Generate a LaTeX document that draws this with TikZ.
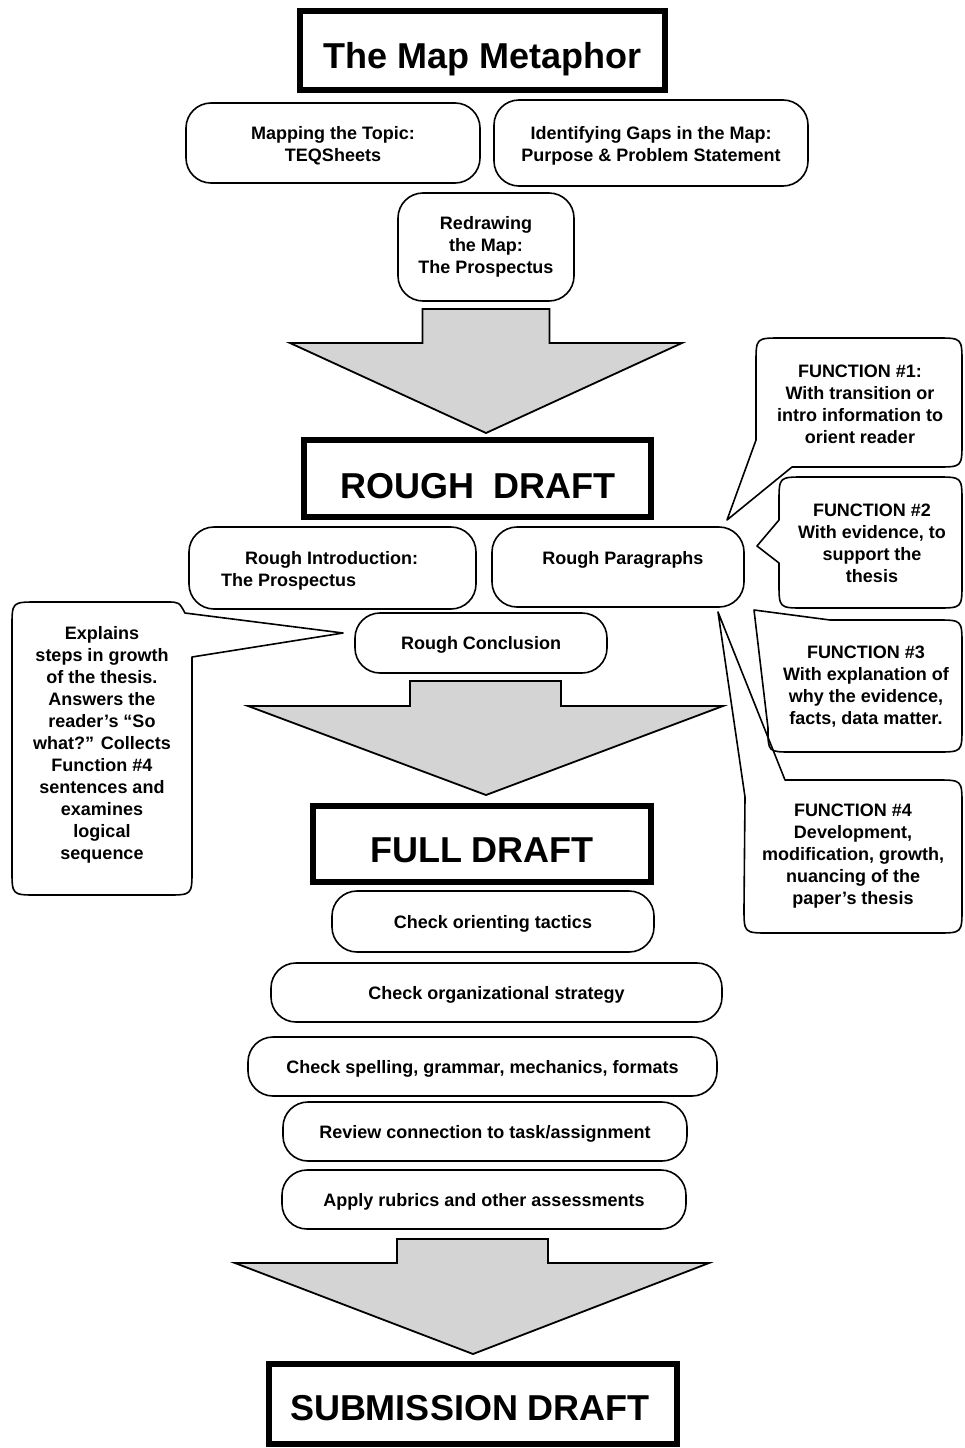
\documentclass[tikz,border=0pt]{standalone}
\usepackage{fontspec}
\setmainfont{Liberation Sans}
\definecolor{arrowgray}{RGB}{212,212,212}
\begin{document}
\begin{tikzpicture}[x=1pt,y=-1pt,
  bigbox/.style={draw, line width=6pt, inner sep=0pt},
  bigtext/.style={font=\fontsize{36}{40}\selectfont\bfseries, inner sep=0pt},
  rbox/.style={draw, line width=1.6pt, rounded corners=25pt, inner sep=0pt, align=center,
    font=\fontsize{18}{22}\selectfont\bfseries},
  oneline/.style={text height=13pt, text depth=0pt},
  txt/.style={font=\fontsize{18}{22}\selectfont\bfseries, align=center, inner sep=0pt},
  callout/.style={draw, line width=1.6pt, line join=round},
  blockarrow/.style={draw, line width=1.8pt, fill=arrowgray, line join=miter}]
\useasboundingbox (0,0) rectangle (964,1448);

% ---------- The Map Metaphor ----------
\node[bigbox, minimum width=365pt, minimum height=79pt] (title) at (482.5,50.5) {};
\node[bigtext, anchor=base] (titletext) at (482.5,68) {The Map Metaphor};

\node[rbox, minimum width=294pt, minimum height=80pt] (map) at (333,143) {};
\node[txt] (maptext) at (333,146) {Mapping the Topic:\\TEQSheets};
\node[rbox, minimum width=314pt, minimum height=86pt] (gaps) at (651,143) {};
\node[txt] (gapstext) at (651,146) {Identifying Gaps in the Map:\\Purpose \& Problem Statement};
\node[rbox, minimum width=176pt, minimum height=108pt] (redraw) at (486,247) {Redrawing\\the Map:\\The Prospectus};

% arrow 1
\draw[blockarrow] (422.5,309) -- (549.5,309) -- (549.5,343) -- (682,343) -- (486,433) -- (290,343) -- (422.5,343) -- cycle;

% ---------- ROUGH DRAFT ----------
\node[bigbox, minimum width=347pt, minimum height=77pt] (rough) at (477.5,478.5) {};
\node[bigtext, anchor=base] (roughtext) at (478,498) {ROUGH\ \ DRAFT};

\node[rbox, minimum width=287pt, minimum height=82pt] (intro) at (332.5,568) {};
\node[txt, align=left, anchor=west] (introtext) at (221,571) {\hspace*{24pt}Rough Introduction:\\The Prospectus};
\node[rbox, minimum width=252pt, minimum height=80pt] (para) at (618,567) {};
\node[txt] (paratext) at (623,560) {Rough Paragraphs};
\node[rbox, oneline, minimum width=252pt, minimum height=60pt] (concl) at (481,643) {Rough Conclusion};

% arrow 2
\draw[blockarrow] (410,681) -- (561,681) -- (561,706) -- (723,706) -- (486,795) -- (248,706) -- (410,706) -- cycle;

% ---------- FULL DRAFT ----------
\node[bigbox, minimum width=338pt, minimum height=76pt] (full) at (482,844) {};
\node[bigtext, anchor=base] (fulltext) at (482,862) {FULL DRAFT};

\node[rbox, oneline, minimum width=322pt, minimum height=61pt] (orient) at (493,921.5) {Check orienting tactics};
\node[rbox, oneline, minimum width=451pt, minimum height=59pt] (org) at (496.5,992.5) {Check organizational strategy};
\node[rbox, oneline, minimum width=469pt, minimum height=59pt] (spell) at (482.5,1066.5) {Check spelling, grammar, mechanics, formats};
\node[rbox, oneline, minimum width=404pt, minimum height=59pt] (review) at (485,1131.5) {Review connection to task/assignment};
\node[rbox, oneline, minimum width=404pt, minimum height=59pt] (apply) at (484,1199.5) {Apply rubrics and other assessments};

% arrow 3
\draw[blockarrow] (397,1239) -- (548,1239) -- (548,1263) -- (709,1263) -- (473,1354) -- (235,1263) -- (397,1263) -- cycle;

% ---------- SUBMISSION DRAFT ----------
\node[bigbox, minimum width=408pt, minimum height=80pt] (submit) at (473,1404) {};
\node[bigtext, anchor=base] (submittext) at (470,1420) {SUBMISSION DRAFT};

% ---------- callouts ----------
% left callout (conclusion)
\draw[callout] (192,657) -- (192,870) .. controls (192,895) .. (167,895) -- (37,895)
  .. controls (12,895) .. (12,870) -- (12,627) .. controls (12,602) .. (37,602) -- (167,602)
  .. controls (179,602) .. (185,613) -- (343,633) -- cycle;
\node[txt] (lctext) at (102,745) {Explains\\steps in growth\\of the thesis.\\Answers the\\reader’s “So\\what?” Collects\\Function \#4\\sentences and\\examines\\logical\\sequence};

% Function 1
\draw[callout] (792,467) -- (937,467) .. controls (962,467) .. (962,442) -- (962,363)
  .. controls (962,338) .. (937,338) -- (781,338) .. controls (756,338) .. (756,363)
  -- (756,440) -- (727,520) -- cycle;
\node[txt] (f1text) at (860,404) {FUNCTION \#1:\\With transition or\\intro information to\\orient reader};

% Function 2
\draw[callout] (779,563) -- (779,583) .. controls (779,608) .. (804,608) -- (937,608)
  .. controls (962,608) .. (962,583) -- (962,502) .. controls (962,477) .. (937,477)
  -- (804,477) .. controls (779,477) .. (779,502) -- (779,520) -- (757,546) -- cycle;
\node[txt] (f2text) at (872,543) {FUNCTION \#2\\With evidence, to\\support the\\thesis};

% Function 3
\draw[callout] (830,620) -- (937,620) .. controls (962,620) .. (962,645) -- (962,727)
  .. controls (962,752) .. (937,752) -- (792,752) .. controls (768,752) .. (768,728)
  -- (754,610) -- cycle;
\node[txt] (f3text) at (866,687) {FUNCTION \#3\\With explanation of\\why the evidence,\\facts, data matter.};

% Function 4
\draw[callout] (785,780) -- (937,780) .. controls (962,780) .. (962,805) -- (962,908)
  .. controls (962,933) .. (937,933) -- (769,933) .. controls (744,933) .. (744,908)
  -- (745,797) -- (718,612) -- cycle;
\node[txt] (f4text) at (853,856) {FUNCTION \#4\\Development,\\modification, growth,\\nuancing of the\\paper’s thesis};
\end{tikzpicture}
\end{document}
